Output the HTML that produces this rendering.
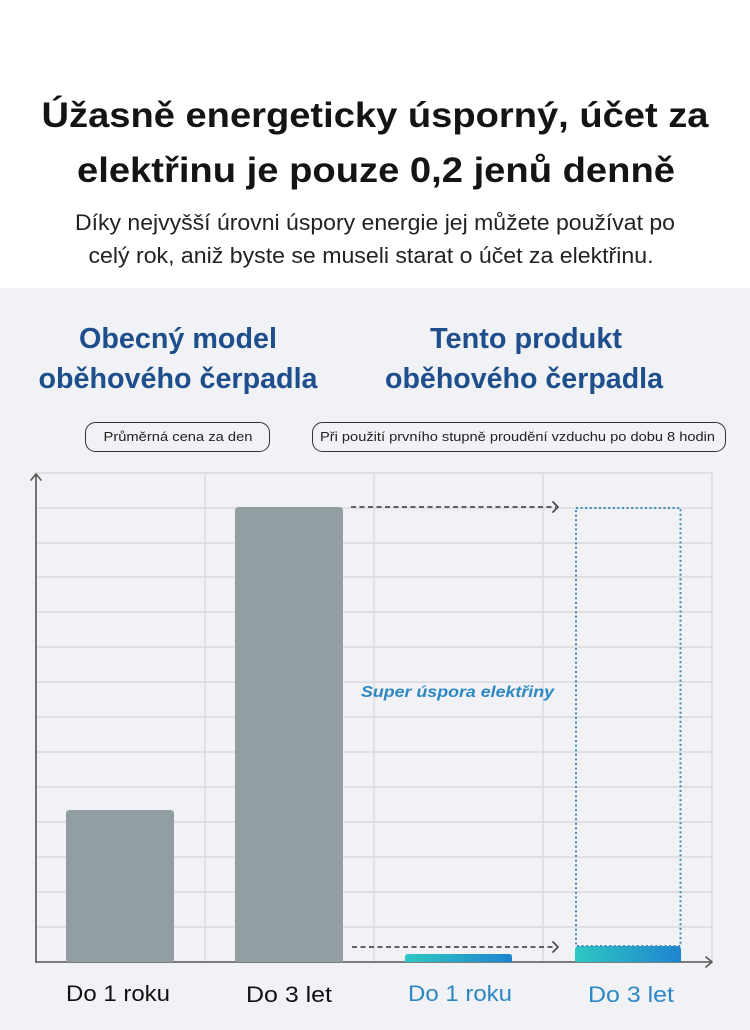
<!DOCTYPE html>
<html><head><meta charset="utf-8">
<style>
html,body{margin:0;padding:0;background:#fff;}
svg{display:block;}
text{font-family:"Liberation Sans",sans-serif;}
</style></head>
<body>
<svg width="750" height="1030" viewBox="0 0 750 1030" xmlns="http://www.w3.org/2000/svg">
<defs>
<linearGradient id="bg" x1="0" y1="0" x2="1" y2="0">
<stop offset="0" stop-color="#2ec8c3"/>
<stop offset="1" stop-color="#1f84cf"/>
</linearGradient>
</defs>
<rect x="0" y="0" width="750" height="288" fill="#ffffff"/>
<rect x="0" y="288" width="750" height="742" fill="#f1f2f5"/>

<!-- header -->
<text x="375" y="127" text-anchor="middle" font-size="35" font-weight="bold" fill="#141414" textLength="667" lengthAdjust="spacingAndGlyphs">Úžasně energeticky úsporný, účet za</text>
<text x="376" y="182" text-anchor="middle" font-size="35" font-weight="bold" fill="#141414" textLength="598" lengthAdjust="spacingAndGlyphs">elektřinu je pouze 0,2 jenů denně</text>
<text x="375" y="230" text-anchor="middle" font-size="22" fill="#222" textLength="600" lengthAdjust="spacingAndGlyphs">Díky nejvyšší úrovni úspory energie jej můžete používat po</text>
<text x="371" y="263" text-anchor="middle" font-size="22" fill="#222" textLength="565" lengthAdjust="spacingAndGlyphs">celý rok, aniž byste se museli starat o účet za elektřinu.</text>

<!-- blue titles -->
<g fill="#1e4e8b" font-size="29" font-weight="bold" text-anchor="middle">
<text x="178" y="348" textLength="198" lengthAdjust="spacingAndGlyphs">Obecný model</text>
<text x="178" y="388" textLength="279" lengthAdjust="spacingAndGlyphs">oběhového čerpadla</text>
<text x="526" y="348" textLength="192" lengthAdjust="spacingAndGlyphs">Tento produkt</text>
<text x="524" y="388" textLength="278" lengthAdjust="spacingAndGlyphs">oběhového čerpadla</text>
</g>

<!-- pills -->
<rect x="85.5" y="422.5" width="184" height="29" rx="10" fill="none" stroke="#333" stroke-width="1"/>
<text x="178" y="441" text-anchor="middle" font-size="13" fill="#222" textLength="149" lengthAdjust="spacingAndGlyphs">Průměrná cena za den</text>
<rect x="312.5" y="422.5" width="413" height="29" rx="10" fill="none" stroke="#333" stroke-width="1"/>
<text x="517.5" y="441" text-anchor="middle" font-size="13" fill="#222" textLength="395" lengthAdjust="spacingAndGlyphs">Při použití prvního stupně proudění vzduchu po dobu 8 hodin</text>

<!-- grid -->
<g stroke="#d8dadd" stroke-width="1.5">
<line x1="36" y1="473" x2="713" y2="473"/>
<line x1="36" y1="508" x2="713" y2="508"/>
<line x1="36" y1="543" x2="713" y2="543"/>
<line x1="36" y1="577" x2="713" y2="577"/>
<line x1="36" y1="612" x2="713" y2="612"/>
<line x1="36" y1="647" x2="713" y2="647"/>
<line x1="36" y1="682" x2="713" y2="682"/>
<line x1="36" y1="717" x2="713" y2="717"/>
<line x1="36" y1="752" x2="713" y2="752"/>
<line x1="36" y1="787" x2="713" y2="787"/>
<line x1="36" y1="822" x2="713" y2="822"/>
<line x1="36" y1="857" x2="713" y2="857"/>
<line x1="36" y1="892" x2="713" y2="892"/>
<line x1="36" y1="927" x2="713" y2="927"/>
<line x1="205" y1="473" x2="205" y2="962"/>
<line x1="374" y1="473" x2="374" y2="962"/>
<line x1="543" y1="473" x2="543" y2="962"/>
<line x1="712" y1="473" x2="712" y2="962"/>
</g>

<!-- axes -->
<g stroke="#555" stroke-width="1.6" fill="none" stroke-linecap="round" stroke-linejoin="round">
<line x1="36" y1="962" x2="36" y2="474"/>
<polyline points="31,480 36,474 41,480"/>
<line x1="36" y1="962" x2="712" y2="962"/>
<polyline points="706,957 712,962 706,967"/>
</g>

<!-- gray bars -->
<path d="M66,962 V814 Q66,810 70,810 H170 Q174,810 174,814 V962 Z" fill="#939ea3"/>
<path d="M235,962 V511 Q235,507 239,507 H339 Q343,507 343,511 V962 Z" fill="#939ea3"/>

<!-- blue bars -->
<path d="M405,962 V957 Q405,954 408,954 H509 Q512,954 512,957 V962 Z" fill="url(#bg)"/>
<path d="M575,962 V950 Q575,946 579,946 H677 Q681,946 681,950 V962 Z" fill="url(#bg)"/>

<!-- dotted rect -->
<rect x="576" y="508" width="104.5" height="438" fill="none" stroke="#3f8cb4" stroke-width="2" stroke-dasharray="2 2.6"/>

<!-- dashed arrows -->
<g stroke="#4d4d4d" stroke-width="1.8" fill="none" stroke-linejoin="round">
<line x1="351" y1="507" x2="556" y2="507" stroke-dasharray="5 3.5"/>
<polyline points="553,502 558,507 553,512" stroke-linecap="round"/>
<line x1="352" y1="947" x2="556" y2="947" stroke-dasharray="5 3.5"/>
<polyline points="553,942 558,947 553,952" stroke-linecap="round"/>
</g>

<!-- super text -->
<text x="361" y="697" font-size="16" font-weight="bold" font-style="italic" fill="#2d88c2" textLength="193" lengthAdjust="spacingAndGlyphs">Super úspora elektřiny</text>

<!-- labels -->
<g font-size="22" text-anchor="middle">
<text x="118" y="1001" fill="#111" textLength="104" lengthAdjust="spacingAndGlyphs">Do 1 roku</text>
<text x="289" y="1002" fill="#111" textLength="86" lengthAdjust="spacingAndGlyphs">Do 3 let</text>
<text x="460" y="1001" fill="#2d87c4" textLength="104" lengthAdjust="spacingAndGlyphs">Do 1 roku</text>
<text x="631" y="1002" fill="#2d87c4" textLength="86" lengthAdjust="spacingAndGlyphs">Do 3 let</text>
</g>
</svg>
</body></html>
